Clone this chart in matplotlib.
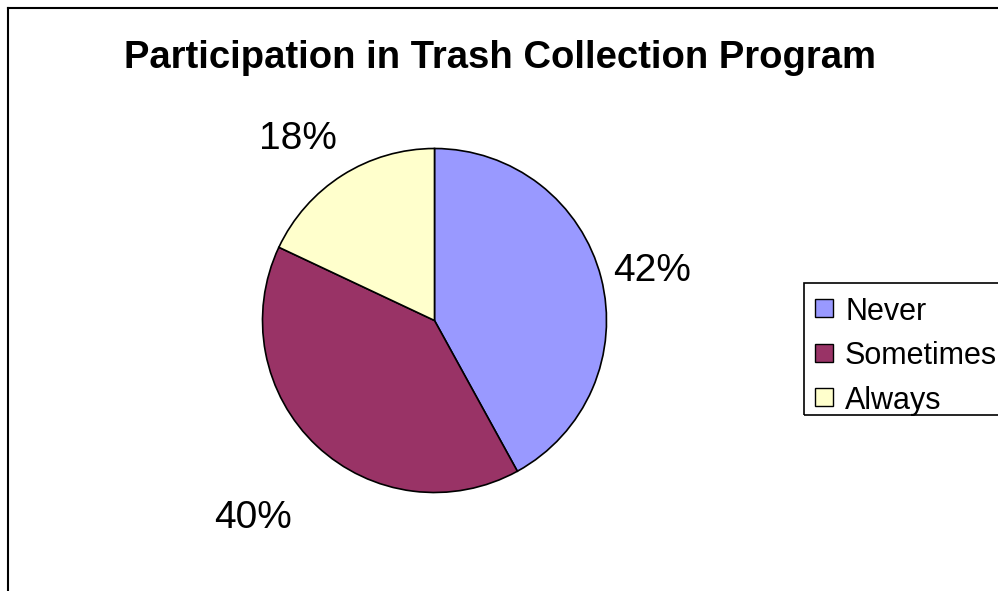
import numpy as np
import matplotlib
matplotlib.use("Agg")
import matplotlib.pyplot as plt
from matplotlib.lines import Line2D
from matplotlib.patches import Rectangle

plt.rcParams["font.family"] = ["Liberation Sans", "DejaVu Sans"]

# data
categories = ["Never", "Sometimes", "Always"]
shares = [42, 40, 18]
colors = ["#9999FF", "#993366", "#FFFFCC"]
title = "Participation in Trash Collection Program"

W, H = 998, 591
fig = plt.figure(figsize=(W / 100, H / 100), dpi=100)
fig.patch.set_facecolor("white")

# chart frame (runs off the right and bottom edges)
fig.add_artist(Line2D([8 / W, 8 / W], [0, 1 - 8 / H], color="black", lw=1.5,
                      transform=fig.transFigure))
fig.add_artist(Line2D([8 / W, 1], [1 - 8 / H, 1 - 8 / H], color="black", lw=1.5,
                      transform=fig.transFigure))

# pie axes sized to the drawn circle
cx, cy, r = 434.5, 320.5, 172
ax = fig.add_axes([(cx - r) / W, (H - cy - r) / H, 2 * r / W, 2 * r / H])
wedges, _ = ax.pie(shares, colors=colors, startangle=90, counterclock=False,
                   wedgeprops=dict(edgecolor="black", linewidth=1.2))
ax.set_xlim(-1, 1)
ax.set_ylim(-1, 1)
ax.set_aspect("equal")
ax.axis("off")

# percentage labels outside the slices (distance, angle tweak in degrees)
label_place = [(1.30, -1.5), (1.56, 0.5), (1.32, 4.5)]
total = sum(shares)
for w, v, (d, da) in zip(wedges, shares, label_place):
    mid = np.deg2rad((w.theta1 + w.theta2) / 2 + da)
    ax.text(d * np.cos(mid), d * np.sin(mid), f"{v / total * 100:.0f}%",
            ha="center", va="center", fontsize=28, clip_on=False)

fig.text(124 / W, 1 - 68 / H, title, ha="left", va="baseline",
         fontsize=27.5, fontweight="bold")

# legend box clipped by the right edge
fig.add_artist(Rectangle((804 / W, 1 - 415 / H), 0.3, 132 / H, fill=False,
                         edgecolor="black", lw=1.2, transform=fig.transFigure))
for i, (name, c) in enumerate(zip(categories, colors)):
    y = 308 + 44.5 * i
    fig.add_artist(Rectangle((815 / W, 1 - (y + 9) / H), 18 / W, 18 / H,
                             facecolor=c, edgecolor="black", lw=1,
                             transform=fig.transFigure))
    fig.text(845 / W, 1 - y / H, name, ha="left", va="center_baseline",
             fontsize=22)

fig.savefig("out.png", dpi=100)
